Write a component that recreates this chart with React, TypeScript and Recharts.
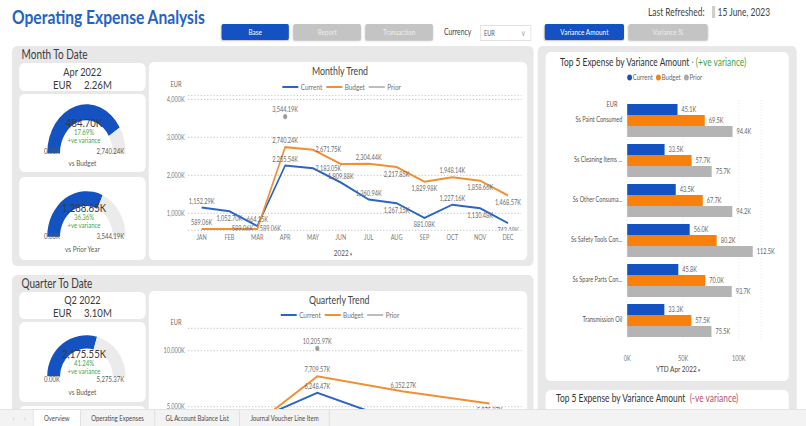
import React from "react";
import {
  Bar,
  BarChart,
  CartesianGrid,
  Cell,
  LabelList,
  Line,
  LineChart,
  Pie,
  PieChart,
  XAxis,
  YAxis
} from "recharts";

// ---- data ----
const months = ["JAN", "FEB", "MAR", "APR", "MAY", "JUN", "JUL", "AUG", "SEP", "OCT", "NOV", "DEC"];
const currentMonthly = [1152.29, 1052.7, 664.15, 2255.54, 2183.05, 1809.88, 1360.94, 1267.15, 881.08, 1227.16, 1130.48, 742.19];
const budgetMonthly = [589.06, 589.06, 589.06, 2740.24, 2671.75, 2297.58, 2304.44, 2217.85, 1829.98, 1948.14, 1858.66, 1468.57];
const priorMonthly = [null, null, null, 3544.19, null, null, null, null, null, null, null, null];
const monthlyTicks = [1000, 2000, 3000, 4000];

const quarters = ["Q1", "Q2", "Q3", "Q4"];
const currentQuarterly = [2869.14, 6248.47, 3509.17, 3099.83];
const budgetQuarterly = [1767.18, 7709.57, 6352.27, 5275.37];
const priorQuarterly = [null, 10205.97, null, null];
const quarterlyTicks = [5000, 10000];

const seriesNames = ["Current", "Budget", "Prior"];

const expenseNames = [
  "Ss Paint Consumed",
  "Ss Cleaning Items ...",
  "Ss Other Consuma...",
  "Ss Safety Tools Con...",
  "Ss Spare Parts Con...",
  "Transmission Oil"
];
const expenseCurrent = [45.1, 33.5, 43.5, 56.0, 45.8, 33.3];
const expenseBudget = [69.5, 57.7, 67.7, 80.2, 70.0, 57.5];
const expensePrior = [94.4, 75.7, 94.2, 112.5, 93.7, 75.5];
const expenseTicks = [0, 50, 100];

const gaugeCaptions = ["vs Budget", "vs Prior Year", "vs Budget"];
const gaugeActuals = [2255.54, 2255.54, 3099.82];
const gaugeTargets = [2740.24, 3544.19, 5275.37];
const gaugeVariances = [484.7, 1288.65, 2175.55];
const gaugePercents = [17.69, 36.36, 41.24];

const tabs = ["Overview", "Operating Expenses", "GL Account Balance List", "Journal Voucher Line Item"];

// ---- style ----
const SQUASH = 0.8;
const VW = 1008;
const FONT = "'Segoe UI', Lato, 'Open Sans', sans-serif";
const BLUE = "#1451c1";
const BLUE_LINE = "#2b64c8";
const ORANGE = "#f8800b";
const ORANGE_LINE = "#f38f31";
const GREY = "#b4b4b4";
const GREEN = "#46a446";
const RED = "#c2506b";
const TEXT = "#3c3c3c";
const PANEL = "#e8e8e8";

const fmtK = (v: number) =>
  v.toLocaleString("en-US", { minimumFractionDigits: 2, maximumFractionDigits: 2 }) + "K";
const fmtTick = (v: number) => v.toLocaleString("en-US") + "K";

// label placement per point (style only); "none" = off-screen / hidden in the reference
const curMonthPos = ["top", "bottom", "top", "top", "right", "top", "top", "bottom", "bottom", "top", "bottom", "bottom"];
const budMonthPos = ["top", "right", "right", "top", "right", "none", "top", "bottom", "bottom", "top", "bottom", "bottom"];
const curQuarterPos = ["none", "top", "none", "none"];
const budQuarterPos = ["none", "top", "top", "bottom"];

function T({ x, y, size, color = TEXT, weight = 400, align = "left", children }: any) {
  const tx = align === "center" ? "-50%" : align === "right" ? "-100%" : "0";
  return (
    <div
      style={{
        position: "absolute",
        left: x,
        top: y,
        transform: `translate(${tx},-50%)`,
        fontSize: size,
        color,
        fontWeight: weight,
        whiteSpace: "nowrap",
        lineHeight: 1
      }}
    >
      {children}
    </div>
  );
}

function Box({ x, y, w, h, bg = "#fff", r = 6, style, children }: any) {
  return (
    <div style={{ position: "absolute", left: x, top: y, width: w, height: h, background: bg, borderRadius: r, ...style }}>
      {children}
    </div>
  );
}

function Btn({ x, label, active, w = 84 }: any) {
  return (
    <div
      style={{
        position: "absolute",
        left: x,
        top: 24,
        width: w,
        height: 16,
        borderRadius: 2,
        background: active ? BLUE : "#c4c4c4",
        color: active ? "#fff" : "#ececec",
        fontSize: 8,
        display: "flex",
        alignItems: "center",
        justifyContent: "center",
        boxShadow: "0 1px 2px rgba(0,0,0,0.25)"
      }}
    >
      {label}
    </div>
  );
}

function pointLabel(pos: string[], key: string) {
  return (props: any) => {
    const { cx, cy, index, payload } = props;
    const v = payload ? payload[key] : null;
    const p = pos[index];
    if (v == null || cx == null || cy == null || p === "none") return <g key={`${key}-${index}`} />;
    let dx = 0;
    let dy = -4;
    let anchor: any = "middle";
    if (p === "bottom") dy = 9.5;
    if (p === "right") {
      dx = 3;
      dy = 2.5;
      anchor = "start";
    }
    return (
      <text key={`${key}-${index}`} x={cx + dx} y={cy + dy} fontSize={7} fill="#6b6b6b" textAnchor={anchor}>
        {fmtK(v)}
      </text>
    );
  };
}

function priorDot(props: any) {
  const { cx, cy, index, payload } = props;
  const v = payload ? payload.prior : null;
  if (v == null || cx == null || cy == null) return <g key={`p-${index}`} />;
  return (
    <g key={`p-${index}`}>
      <circle cx={cx} cy={cy} r={2.6} fill="#9b9b9b" />
      <text x={cx} y={cy - 4.5} fontSize={7} fill="#6b6b6b" textAnchor="middle">
        {fmtK(v)}
      </text>
    </g>
  );
}

function CategoryTick({ x, y, payload }: any) {
  return (
    <text x={x} y={y} dy={2.5} textAnchor="end" fontSize={7} fill="#555">
      {payload.value}
    </text>
  );
}

function LineLegend({ cx, y }: any) {
  const colors = [BLUE_LINE, ORANGE_LINE, "#bdbdbd"];
  return (
    <div
      style={{
        position: "absolute",
        left: cx,
        top: y,
        transform: "translate(-50%,-50%)",
        display: "flex",
        alignItems: "center",
        gap: 5,
        fontSize: 8,
        color: "#707070",
        whiteSpace: "nowrap"
      }}
    >
      {seriesNames.map((n, i) => (
        <span key={n} style={{ display: "flex", alignItems: "center", gap: 3 }}>
          <span style={{ width: 20, height: 2, background: colors[i], display: "inline-block" }} />
          {n}
        </span>
      ))}
    </div>
  );
}

function TrendChart({ rows, x, y, w, h, margin, pad, domain, ticks, curPos, budPos, showX = true }: any) {
  return (
    <div style={{ position: "absolute", left: x, top: y }}>
      <LineChart width={w} height={h} data={rows} margin={margin}>
        <CartesianGrid vertical={false} stroke="#cbcbcb" strokeDasharray="1.5 2.5" strokeWidth={1.2} />
        <XAxis
          dataKey="k"
          padding={pad}
          interval={0}
          tickLine={false}
          axisLine={false}
          tickSize={0}
          tickMargin={5}
          height={18}
          tick={showX ? { fontSize: 7, fill: "#7a7a7a" } : false}
        />
        <YAxis
          domain={domain}
          ticks={ticks}
          allowDataOverflow
          tickFormatter={fmtTick}
          tickLine={false}
          axisLine={false}
          tickSize={0}
          tickMargin={4}
          width={44}
          tick={{ fontSize: 7, fill: "#7a7a7a" }}
        />
        <Line
          dataKey="current"
          stroke={BLUE_LINE}
          strokeWidth={2}
          dot={pointLabel(curPos, "current")}
          activeDot={false}
          isAnimationActive={false}
        />
        <Line
          dataKey="budget"
          stroke={ORANGE_LINE}
          strokeWidth={2}
          dot={pointLabel(budPos, "budget")}
          activeDot={false}
          isAnimationActive={false}
        />
        <Line
          dataKey="prior"
          stroke="#bdbdbd"
          strokeWidth={1.5}
          dot={priorDot}
          activeDot={false}
          isAnimationActive={false}
        />
      </LineChart>
    </div>
  );
}

function Gauge({ i, top, h, base, arcH, ty }: any) {
  const cy = base - top;
  const data = [
    { name: "value", v: gaugeActuals[i] },
    { name: "rest", v: gaugeTargets[i] - gaugeActuals[i] }
  ];
  return (
    <Box x={24} y={top} w={158} h={h}>
      <div
        style={{
          position: "absolute",
          left: 0,
          top: 0,
          transform: `scaleY(${arcH / 49})`,
          transformOrigin: `79px ${cy}px`
        }}
      >
        <PieChart width={158} height={h}>
          <Pie
            data={data}
            dataKey="v"
            cx={79}
            cy={cy}
            startAngle={180}
            endAngle={0}
            innerRadius={33}
            outerRadius={49}
            stroke="none"
            isAnimationActive={false}
          >
            <Cell fill={BLUE} />
            <Cell fill="#ebebeb" />
          </Pie>
        </PieChart>
      </div>
      <T x={81} y={ty[0] - top} size={12} color="#3a3a3a" align="center">
        {fmtK(gaugeVariances[i])}
      </T>
      <T x={81} y={ty[1] - top} size={7.5} color={GREEN} align="center">
        {gaugePercents[i].toFixed(2)}%
      </T>
      <T x={81} y={ty[2] - top} size={7.5} color={GREEN} align="center">
        +ve variance
      </T>
      <T x={41} y={ty[3] - top} size={7.5} color="#5a5a5a" align="center">
        0.00K
      </T>
      <T x={114} y={ty[3] - top} size={7.5} color="#5a5a5a" align="center">
        {fmtK(gaugeTargets[i])}
      </T>
      <T x={79} y={ty[4] - top} size={8} color="#5a5a5a" align="center">
        {gaugeCaptions[i]}
      </T>
    </Box>
  );
}

export default function App() {
  const monthlyRows = months.map((k, i) => ({
    k,
    current: currentMonthly[i],
    budget: budgetMonthly[i],
    prior: priorMonthly[i]
  }));
  const quarterlyRows = quarters.map((k, i) => ({
    k,
    current: currentQuarterly[i],
    budget: budgetQuarterly[i],
    prior: priorQuarterly[i]
  }));
  const expenseRows = expenseNames.map((name, i) => ({
    name,
    current: expenseCurrent[i],
    budget: expenseBudget[i],
    prior: expensePrior[i]
  }));
  const barLabel = (v: any) => Number(v).toFixed(1) + "K";
  const dotColors = [BLUE, ORANGE, "#a9a9a9"];

  return (
    <div style={{ position: "fixed", left: 0, top: 0, width: 806, height: 426, overflow: "hidden", background: "#fff" }}>
      <div
        style={{
          position: "absolute",
          left: 0,
          top: 0,
          width: VW,
          height: 426,
          overflow: "hidden",
          transform: `scaleX(${SQUASH})`,
          transformOrigin: "0 0",
          fontFamily: FONT,
          color: TEXT
        }}
      >
        {/* header */}
        <T x={15} y={17} size={19.5} weight={700} color="#2462c6">
          Operating Expense Analysis
        </T>
        <T x={810} y={12} size={10.5} color="#444">
          Last Refreshed:
        </T>
        <Box x={890} y={6} w={4} h={12} bg="#cfcfcf" r={0} />
        <T x={897} y={12} size={10.5} color="#444">
          15 June, 2023
        </T>
        <Btn x={277} label="Base" active />
        <Btn x={367} label="Report" />
        <Btn x={457} label="Transaction" />
        <T x={555} y={32} size={8.5} color="#444">
          Currency
        </T>
        <Box x={600} y={25} w={62} h={14} r={0} style={{ border: "1px solid #e2e2e2" }}>
          <T x={4} y={7} size={7} color="#555">
            EUR
          </T>
          <T x={50} y={7} size={8} color="#aaa">
            ∨
          </T>
        </Box>
        <Btn x={681} label="Variance Amount" active w={99} />
        <Btn x={786} label="Variance %" w={98} />

        {/* month to date */}
        <Box x={15} y={46} w={652} h={220} bg={PANEL} />
        <T x={27} y={55} size={12.5} color="#3a3a3a">
          Month To Date
        </T>
        <Box x={24} y={63} w={158} h={28}>
          <T x={79} y={8.5} size={11.5} color="#3a3a3a" align="center">
            Apr 2022
          </T>
          <T x={79} y={21.5} size={12} color="#3a3a3a" align="center">
            EUR&nbsp;&nbsp;&nbsp;&nbsp;&nbsp;2.26M
          </T>
        </Box>
        <Gauge i={0} top={94} h={78} base={148.3} arcH={49} ty={[122.5, 133.3, 141.3, 152.3, 163.3]} />
        <Gauge i={1} top={177} h={83} base={232} arcH={45.5} ty={[208, 218.3, 226.3, 236.5, 249]} />

        <Box x={186} y={62} w={473} h={198} />
        <T x={425} y={70} size={11} color="#444" align="center">
          Monthly Trend
        </T>
        <LineLegend cx={427} y={87} />
        <T x={220} y={83.5} size={7} color="#666" align="center">
          EUR
        </T>
        <TrendChart
          rows={monthlyRows}
          x={186}
          y={62}
          w={473}
          h={198}
          margin={{ top: 33.5, right: 7, bottom: 11.6, left: 5 }}
          pad={{ left: 17, right: 17 }}
          domain={[550, 4100]}
          ticks={monthlyTicks}
          curPos={curMonthPos}
          budPos={budMonthPos}
        />
        <T x={429} y={253} size={8} color="#555" align="center">
          2022 <span style={{ fontSize: 5 }}>▾</span>
        </T>

        {/* quarter to date */}
        <Box x={15} y={275} w={652} h={200} bg={PANEL} />
        <T x={27} y={284} size={12.5} color="#3a3a3a">
          Quarter To Date
        </T>
        <Box x={24} y={292} w={158} h={27}>
          <T x={79} y={7.5} size={11.5} color="#3a3a3a" align="center">
            Q2 2022
          </T>
          <T x={79} y={20.5} size={12} color="#3a3a3a" align="center">
            EUR&nbsp;&nbsp;&nbsp;&nbsp;&nbsp;3.10M
          </T>
        </Box>
        <Gauge i={2} top={322} h={80} base={372} arcH={41} ty={[353.5, 364.2, 371.9, 380, 392.3]} />
        <Box x={24} y={406} w={158} h={60} />

        <Box x={186} y={291} w={473} h={200} />
        <T x={424} y={299} size={11} color="#444" align="center">
          Quarterly Trend
        </T>
        <LineLegend cx={425} y={315} />
        <T x={220} y={322} size={7} color="#666" align="center">
          EUR
        </T>
        <TrendChart
          rows={quarterlyRows}
          x={186}
          y={291}
          w={473}
          h={200}
          margin={{ top: 37.3, right: 7, bottom: 10.3, left: 5 }}
          pad={{ left: 54, right: 40 }}
          domain={[0, 12000]}
          ticks={quarterlyTicks}
          curPos={curQuarterPos}
          budPos={budQuarterPos}
          showX={false}
        />

        {/* right panel */}
        <Box x={672} y={46} w={324} h={420} bg={PANEL} />
        <Box x={682} y={52} w={304} h={329} />
        <T x={700} y={62} size={10.5} color="#333">
          Top 5 Expense by Variance Amount <span style={{ color: "#999" }}>·</span>{" "}
          <span style={{ color: GREEN }}>(+ve variance)</span>
        </T>
        <div
          style={{
            position: "absolute",
            left: 784,
            top: 77,
            transform: "translateY(-50%)",
            display: "flex",
            gap: 4,
            fontSize: 7.5,
            color: "#666",
            whiteSpace: "nowrap"
          }}
        >
          {seriesNames.map((n, i) => (
            <span key={n} style={{ display: "flex", alignItems: "center", gap: 1 }}>
              <span
                style={{ width: 6, height: 6, borderRadius: 3, background: dotColors[i], display: "inline-block" }}
              />
              {n}
            </span>
          ))}
        </div>
        <T x={765} y={104} size={7} color="#555" align="center">
          EUR
        </T>
        <div style={{ position: "absolute", left: 682, top: 52 }}>
          <BarChart
            width={304}
            height={329}
            data={expenseRows}
            layout="vertical"
            margin={{ top: 48, right: 34.6, bottom: 21, left: 0 }}
            barCategoryGap={4}
            barGap={0}
          >
            <CartesianGrid horizontal={false} stroke="#e2e2e2" strokeDasharray="1 2" />
            <XAxis
              type="number"
              domain={[0, 120]}
              ticks={expenseTicks}
              tickFormatter={(v) => v + "K"}
              tickLine={false}
              axisLine={false}
              tickSize={0}
              tickMargin={16}
              height={20}
              tick={{ fontSize: 7, fill: "#777" }}
            />
            <YAxis
              type="category"
              dataKey="name"
              width={102}
              tickLine={false}
              axisLine={false}
              tickSize={0}
              tickMargin={6}
              tick={<CategoryTick />}
            />
            <Bar dataKey="current" fill={BLUE} isAnimationActive={false}>
              <LabelList dataKey="current" position="right" offset={5} fontSize={7} fill="#666" formatter={barLabel} />
            </Bar>
            <Bar dataKey="budget" fill={ORANGE} isAnimationActive={false}>
              <LabelList dataKey="budget" position="right" offset={5} fontSize={7} fill="#666" formatter={barLabel} />
            </Bar>
            <Bar dataKey="prior" fill={GREY} isAnimationActive={false}>
              <LabelList dataKey="prior" position="right" offset={5} fontSize={7} fill="#666" formatter={barLabel} />
            </Bar>
          </BarChart>
        </div>
        <T x={848} y={369} size={8} color="#444" align="center">
          YTD Apr 2022 <span style={{ fontSize: 5 }}>▾</span>
        </T>

        <Box x={682} y={390} w={304} h={60} />
        <T x={695} y={398} size={10.5} color="#333">
          Top 5 Expense by Variance Amount&nbsp;&nbsp;<span style={{ color: RED }}>(-ve variance)</span>
        </T>

        {/* tab bar */}
        <div
          style={{
            position: "absolute",
            left: 0,
            top: 409,
            width: VW,
            height: 17,
            background: "#f3f3f3",
            borderTop: "1px solid #e3e3e3"
          }}
        >
          <T x={16} y={8} size={8} color="#bbb">
            ‹
          </T>
          <T x={30} y={8} size={8} color="#bbb">
            ›
          </T>
          <div style={{ position: "absolute", left: 41, top: 0, height: 17, display: "flex" }}>
            {tabs.map((t, i) => (
              <div
                key={t}
                style={{
                  height: 17,
                  padding: "0 13px",
                  display: "flex",
                  alignItems: "center",
                  fontSize: 7.5,
                  color: "#4a4a4a",
                  background: i === 0 ? "#fff" : "transparent",
                  borderLeft: "1px solid #dcdcdc",
                  borderRight: i === tabs.length - 1 ? "1px solid #dcdcdc" : "none",
                  whiteSpace: "nowrap"
                }}
              >
                {t}
              </div>
            ))}
          </div>
        </div>
      </div>
    </div>
  );
}
